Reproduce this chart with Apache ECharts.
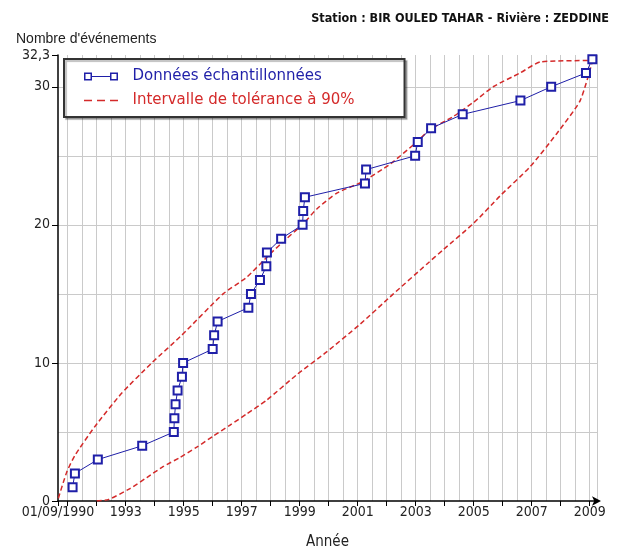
<!DOCTYPE html>
<html>
<head>
<meta charset="utf-8">
<title>Station BIR OULED TAHAR</title>
<script src="https://cdn.jsdelivr.net/npm/echarts@6.0.0/dist/echarts.min.js"></script>
<style>
  html, body { margin: 0; padding: 0; background: #fff; }
  #chart { width: 624px; height: 555px; }
</style>
</head>
<body>
<div id="chart"></div>
<script>
// echantillon : date de l'evenement (annee decimale) et rang cumule
var sampleYears = [1991.17, 1991.25, 1992.04, 1993.57, 1994.66, 1994.68, 1994.72, 1994.79,
  1994.94, 1994.98, 1996.0, 1996.05, 1996.17, 1997.23, 1997.32, 1997.63,
  1997.85, 1997.87, 1998.36, 1999.1, 1999.12, 1999.18, 2001.25, 2001.29,
  2002.98, 2003.07, 2003.53, 2004.62, 2006.61, 2007.67, 2008.87, 2009.09];
var sampleCounts = [1, 2, 3, 4, 5, 6, 7, 8, 9, 10, 11, 12, 13, 14, 15, 16,
  17, 18, 19, 20, 21, 22, 23, 24, 25, 26, 27, 28, 29, 30, 31, 32];

// intervalle de tolerance a 90% (borne haute / borne basse)
var upperYears = [1990.68, 1990.97, 1991.25, 1991.94, 1992.86, 1993.9, 1994.93, 1996.36,
  1997.17, 1997.98, 1998.55, 1999.13, 1999.59, 2000.28, 2001.14, 2002.12, 2003.03,
  2003.49, 2004.3, 2005.0, 2005.67, 2006.6, 2007.3, 2009.1];
var upperValues = [0.2, 2.1, 3.3, 5.4, 7.8, 10.0, 12.0, 15.0,
  16.2, 17.9, 19.0, 20.1, 21.15, 22.3, 23.1, 24.4, 26.0,
  26.9, 27.85, 28.9, 30.0, 31.0, 31.8, 31.9];
var lowerYears = [1992.0, 1992.4, 1993.15, 1993.73, 1994.3, 1994.87, 1995.45, 1996.02,
  1996.6, 1997.17, 1997.86, 1998.9, 1999.93, 2001.08, 2002.23, 2003.38, 2003.95,
  2004.99, 2005.91, 2006.94, 2007.86, 2008.67, 2009.1];
var lowerValues = [0, 0.1, 0.9, 1.7, 2.5, 3.15, 3.9, 4.7,
  5.5, 6.3, 7.3, 9.15, 10.8, 12.8, 15.0, 17.15, 18.2,
  20.1, 22.1, 24.2, 26.6, 29.0, 31.9];

// graduations
var xStart = 1990.667; // 01/09/1990
var xEnd = 2009.25;
var xLabelYears = [1990.667, 1993, 1995, 1997, 1999, 2001, 2003, 2005, 2007, 2009];
var xTickYears = [1990.667, 1991, 1992, 1993, 1994, 1995, 1996, 1997, 1998, 1999, 2000,
  2001, 2002, 2003, 2004, 2005, 2006, 2007, 2008, 2009];
var xGridYears = [1991, 1991.5, 1992, 1992.5, 1993, 1993.5, 1994, 1994.5, 1995, 1995.5,
  1996, 1996.5, 1997, 1997.5, 1998, 1998.5, 1999, 1999.5, 2000, 2000.5, 2001, 2001.5,
  2002, 2002.5, 2003, 2003.5, 2004, 2004.5, 2005, 2005.5, 2006, 2006.5, 2007, 2007.5,
  2008, 2008.5, 2009, 2009.25];
var yMax = 32.3;
var yLabelValues = [0, 10, 20, 30, 32.3];
var yGridValues = [5, 10, 15, 20, 25, 30];

var blue = '#1f1fa8';
var red = '#d42a2a';
var narrow = '"Liberation Sans Narrow", "DejaVu Sans Condensed", "Liberation Sans", sans-serif';
var tolName = 'Intervalle de tolérance à 90%';
var sampleName = 'Données échantillonnées';

function pairs(xs, ys) {
  return xs.map(function (x, i) { return [x, ys[i]]; });
}

var chart = echarts.init(document.getElementById('chart'));
chart.setOption({
  animation: false,
  backgroundColor: '#fff',
  title: [{
    text: 'Station : BIR OULED TAHAR - Rivière : ZEDDINE',
    right: 10,
    top: 7,
    textStyle: { fontFamily: narrow, fontSize: 12.5, fontWeight: 'bold', color: '#111' }
  }, {
    text: "Nombre d'événements",
    left: 11,
    top: 27,
    textStyle: { fontFamily: '"Liberation Sans", sans-serif', fontSize: 14, fontWeight: 'normal', color: '#222' }
  }],
  grid: { left: 58, right: 27, top: 55, bottom: 42, containLabel: false },
  legend: {
    orient: 'vertical',
    left: 64,
    top: 59,
    padding: [10, 50, 9, 20],
    itemGap: 9,
    itemWidth: 34,
    itemHeight: 8,
    backgroundColor: '#fff',
    borderColor: '#333',
    borderWidth: 2,
    shadowColor: 'rgba(0,0,0,0.25)',
    shadowOffsetX: 2,
    shadowOffsetY: 2,
    shadowBlur: 1,
    formatter: function (name) { return '  ' + name; },
    textStyle: { fontFamily: '"DejaVu Sans", sans-serif', fontSize: 15 },
    data: [{
      name: sampleName,
      icon: 'path://M0,0L8,0L8,8L0,8Z M1.5,1.5L1.5,6.5L6.5,6.5L6.5,1.5Z M8,3.5L26,3.5L26,4.5L8,4.5Z M26,0L34,0L34,8L26,8Z M27.5,1.5L27.5,6.5L32.5,6.5L32.5,1.5Z',
      itemStyle: { color: blue, borderWidth: 0 },
      textStyle: { color: blue }
    }, {
      name: tolName,
      icon: 'path://M0,3.2L8,3.2L8,4.8L0,4.8Z M13,3.2L21,3.2L21,4.8L13,4.8Z M26,3.2L34,3.2L34,4.8L26,4.8Z',
      itemStyle: { color: red, borderWidth: 0 },
      textStyle: { color: red }
    }]
  },
  xAxis: [{
    type: 'value',
    min: xStart,
    max: xEnd,
    name: 'Année',
    nameLocation: 'middle',
    nameGap: 34,
    nameTextStyle: { fontFamily: narrow, fontSize: 15, color: '#222' },
    axisLine: {
      lineStyle: { color: '#000', width: 1.5 },
      symbol: ['none', 'arrow'],
      symbolSize: [7, 9],
      symbolOffset: [0, 4]
    },
    axisTick: { customValues: xTickYears, length: 5, lineStyle: { color: '#000' } },
    axisLabel: {
      customValues: xLabelYears,
      margin: 4,
      color: '#222',
      fontFamily: narrow,
      fontSize: 14,
      formatter: function (v) { return v < 1991 ? '01/09/1990' : String(Math.round(v)); }
    },
    splitLine: { show: false }
  }, {
    type: 'value',
    min: xStart,
    max: xEnd,
    position: 'bottom',
    axisLine: { show: false },
    axisTick: { show: false, customValues: xGridYears },
    axisLabel: { show: false },
    splitLine: { show: true, lineStyle: { color: '#cacaca', width: 1 } }
  }],
  yAxis: [{
    type: 'value',
    min: 0,
    max: yMax,
    position: 'left',
    axisLine: { show: true, lineStyle: { color: '#000', width: 1.5 } },
    axisTick: { show: true, customValues: yLabelValues, length: 6, lineStyle: { color: '#000' } },
    axisLabel: {
      customValues: yLabelValues,
      margin: 8,
      color: '#222',
      fontFamily: narrow,
      fontSize: 14,
      formatter: function (v) { return v === yMax ? '32,3' : String(v); }
    },
    splitLine: { show: false }
  }, {
    type: 'value',
    min: 0,
    max: yMax,
    position: 'left',
    axisLine: { show: false },
    axisTick: { show: false, customValues: yGridValues },
    axisLabel: { show: false },
    splitLine: { show: true, lineStyle: { color: '#cacaca', width: 1 } }
  }],
  series: [{
    name: tolName,
    type: 'line',
    symbol: 'none',
    smooth: 0.2,
    lineStyle: { color: red, width: 1.5, type: [5, 3] },
    itemStyle: { color: red },
    data: pairs(upperYears, upperValues),
    z: 3
  }, {
    name: tolName,
    type: 'line',
    symbol: 'none',
    smooth: 0.2,
    lineStyle: { color: red, width: 1.5, type: [5, 3] },
    itemStyle: { color: red },
    data: pairs(lowerYears, lowerValues),
    z: 3
  }, {
    name: sampleName,
    type: 'line',
    symbol: 'emptyRect',
    symbolSize: 8,
    lineStyle: { color: blue, width: 1 },
    itemStyle: { color: blue, borderWidth: 1.2 },
    data: pairs(sampleYears, sampleCounts),
    z: 4
  }]
});
</script>
</body>
</html>
